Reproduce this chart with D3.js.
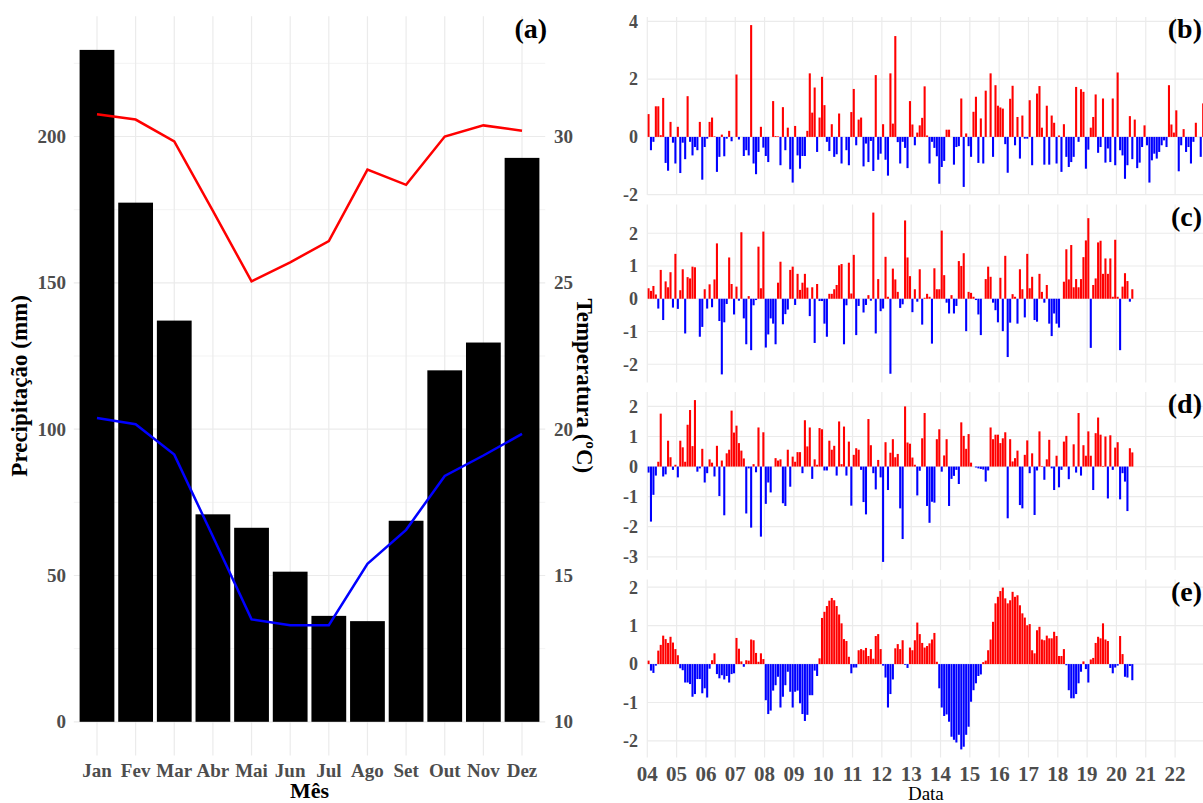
<!DOCTYPE html>
<html>
<head>
<meta charset="utf-8">
<script src="https://cdn.jsdelivr.net/npm/d3@7"></script>
<style>
  body { margin: 0; background: #fff; }
  svg { display: block; }
  text { font-family: "Liberation Serif", "Times New Roman", serif; }
</style>
</head>
<body>
<div id="chart"></div>
<script>
/*************    DADOS   *************/

// (a) normais mensais
var meses = ["Jan", "Fev", "Mar", "Abr", "Mai", "Jun", "Jul", "Ago", "Set", "Out", "Nov", "Dez"];
var precipitacao = [229.6, 177.4, 137.1, 70.9, 66.3, 51.3, 36.2, 34.4, 68.7, 120.1, 129.6, 192.7];
var tempMax = [30.76, 30.58, 29.83, 27.46, 25.05, 25.7, 26.43, 28.87, 28.35, 30.0, 30.38, 30.2];
var tempMin = [20.38, 20.17, 19.13, 16.33, 13.5, 13.3, 13.3, 15.4, 16.56, 18.4, 19.1, 19.84];
var precipTicks = [0, 50, 100, 150, 200];
var tempTicks = [10, 15, 20, 25, 30];

// (b)-(e) anomalias mensais, a partir de jan/2004
var anoInicio = 2004;
var anos = d3.range(2004, 2023);

var anomaliaB = [
  0.79, -0.46, -0.17, 1.06, 1.06, 0.06, 1.35, -0.9, -1.17, 0.52, -0.2, -0.92,
  0.35, -1.25, -0.2, -0.77, 1.41, -0.17, -0.64, -0.35, -0.46, 0.52, -1.48, -0.35,
  -0.06, 0.52, 0.67, 0.02, -1.21, -0.69, 0.08, -0.67, -0.06, 0.21, -0.15, 0,
  2.16, -0.09, 0, -0.66, -0.46, -0.64, 3.87, -0.92, -1.29, -0.52, 0.35, -0.37,
  -0.66, -0.87, 0, 1.24, 0.03, 0.02, -0.98, 1.03, -0.46, 0.32, -1.12, -1.58,
  0.38, -0.64, -1.1, -0.66, -0.66, 0.21, 2.2, 0.84, 1.71, -0.52, 0.67, 2.08,
  1.1, -0.17, -0.49, 0.44, -0.69, -0.6, 0.81, -0.92, 0, -0.46, -0.98, 0.86,
  1.66, -0.29, 0.6, 0.67, -1.02, -0.23, -0.87, -0.14, -1.18, 2.14, -0.79, -0.58,
  0.44, -0.79, -1.34, 2.2, 0.46, 3.49, -0.18, -0.92, -0.17, -0.38, -1.08, 1.24,
  0.43, -0.29, 0.15, 0.4, 0.66, 1.75, 0.05, -0.92, -0.17, -0.38, -0.67, -1.62,
  -1.04, -0.83, 0.25, 0.25, 0, -0.96, -0.35, -0.32, 1.33, -1.73, 0.12, -0.32,
  -0.69, 0.87, 1.39, -0.9, 0.64, -0.92, 1.6, 0, 2.2, -0.69, 1.79, 1.08,
  1.02, 0.98, -0.25, -1.24, 1.32, 1.77, -0.29, 0.69, -0.75, 0.74, -0.06, -0.06,
  1.27, -0.98, 0, 1.5, 1.76, 0.32, -0.96, 1.08, -0.96, 0.74, 0.49, -0.92,
  0.05, -1.21, 0.44, -0.69, -1.04, -0.87, -0.69, 1.73, -0.17, 1.65, 1.56, -1.1,
  -0.44, 0.32, 0.69, 1.47, -0.55, -0.35, 1.33, -0.89, -0.4, -0.87, 1.33, -0.98,
  2.23, -0.46, -0.64, -1.45, -0.98, 0.72, -0.77, 0.6, -1.08, -0.89, -0.35, 0.4,
  -0.29, -1.58, -0.81, -0.58, -0.75, -0.52, -0.29, -0.12, -0.35, 1.79, 0.43, 0.15,
  0.92, -1.19, -0.29, 0.27, -0.52, -0.35, -0.92, -0.17, 0.49, 0, -0.69, 1.16
];

var anomaliaC = [
  0.32, 0.24, 0.39, 0.13, -0.3, 0.88, -0.65, 0.53, 0.35, 0.81, -0.27, 1.37,
  -0.31, 0.26, 0.9, -1.06, 0.66, 0.62, 0.98, 0.96, 0, -1.16, -0.86, 0.29,
  -0.3, 0.44, -0.26, 0.59, 1.69, -0.68, -2.31, -0.72, -0.16, 1.26, 0.45, -0.48,
  0.37, -0.06, 2.03, -0.6, -1.39, 0.08, -1.57, -0.2, -0.04, 1.59, 0.32, 2.05,
  -1.49, -1.09, -0.6, -0.76, -1.39, 0.49, 1.13, -0.78, -0.47, -0.33, 0.88, 0.98,
  -0.19, 0.76, 0.27, 0.49, 0.76, 0.34, -0.53, 0.35, -1.35, 0.45, -0.07, -0.07,
  -0.76, -1.16, 0.15, 0.15, 0.29, 0.42, 1.02, 1.06, -1.39, -0.2, 1.1, 0.16,
  1.34, -1.11, -0.22, 0, -0.42, -0.19, 0.11, -0.06, 2.63, -1.06, 0.6, -0.38,
  -0.3, 1.28, 0.06, -2.29, 0.92, 0.59, 0.21, -0.28, -0.17, 2.39, 1.26, 0.69,
  -0.41, 0.29, -0.09, 0.9, -0.79, 0.03, 0.15, 0.06, -1.37, 0.93, 0.29, 0.29,
  2.08, 0.72, -0.12, -0.45, 0.11, -0.45, -0.22, 1.15, 1.0, 1.39, -0.99, 0.21,
  0.18, 0.06, -0.04, -0.48, -1.11, 0, 0.6, 0.98, 0.67, -0.12, -0.35, -0.72,
  0.64, -0.99, 1.31, -1.78, -0.73, 0.14, 0.06, -0.76, 0.9, 0.29, -0.57, 1.37,
  0.32, 0.67, -0.65, -0.7, 0.76, 0.21, -0.12, 0.42, -0.76, -1.14, -0.45, -0.76,
  -0.88, 0, 0.52, 1.51, 0.59, 1.64, 0.35, 0.6, 0.35, 0.6, 1.27, 1.78,
  2.46, -1.5, 0.42, 0.62, 1.72, 1.77, 0.76, 1.23, 0.76, 1.23, 0.06, 1.8,
  0.06, -1.57, 0.37, 0.78, 0.54, -0.09, 0.29
];

var anomaliaD = [
  -0.2, -1.83, -0.94, -0.3, 0.16, 1.76, -0.33, -0.26, 0.86, 0.31, -0.11, 0.06,
  -0.36, 0.86, 0.64, 0.16, 1.39, 1.88, 0.68, 2.21, -0.17, -0.06, 0.59, -0.53,
  -0.22, 0.24, 0.13, -0.33, 0.69, -0.98, 0.2, -1.62, 0.44, 0.56, 1.86, 1.13,
  1.36, 0.78, 0.53, 0.27, -1.56, -0.06, -2.03, 0.08, -0.19, 1.3, -2.33, 1.14,
  -1.24, -0.53, -0.86, 0, 0.28, 0.2, 0.24, -1.22, -1.31, 0.56, -0.67, 0.33,
  0.16, 0.48, 0.48, -0.22, 1.54, 0.67, 1.3, -0.41, 0.24, 0.06, 1.28, 1.24,
  -0.13, -0.13, 0.86, 0.56, 0.69, -0.3, 1.5, 0.08, 1.33, -0.3, 0.83, -1.3,
  0.39, 0.61, 0.56, -0.11, -1.18, -1.59, 1.58, 0.71, -0.22, -0.76, 0.22, -0.36,
  -3.17, 0.81, -0.78, 0.46, 0.91, 0.31, 0.42, -1.39, -2.41, 2.0, 0.8, 0.76,
  0.3, 0.06, -0.96, -0.14, 0.94, 1.78, -1.31, -1.87, -1.17, -1.2, 0.91, 1.24,
  -0.17, 0.37, 0.91, -1.31, -0.41, -0.31, -0.11, -0.58, 1.47, 1.02, 0.59, 1.08,
  0.13, 0, -0.03, -0.06, -0.08, -0.1, -0.5, -0.13, 1.3, 0.91, 1.06, 1.06,
  0.78, 0.94, 1.14, -1.72, 0.91, 0.17, 0.28, 0.53, -1.28, -1.39, 0.39, 0.87,
  -0.22, 0.44, -1.61, -0.13, 1.17, 0.02, -0.44, 0.24, 0.89, -0.06, -0.78, 0.36,
  -0.69, -0.11, 0.83, 1.02, -0.42, 0, 0.74, -0.2, 1.78, -0.3, 0.71, 0.36,
  1.17, 0.36, -0.78, 1.11, 1.63, 1.06, 0.02, 1.0, -1.06, 1.04, -0.11, 0.63,
  0.81, -1.09, -0.22, -0.5, -1.48, 0.61, 0.47
];

var anomaliaE = [
  0.09, -0.17, -0.23, -0.04, 0.35, 0.5, 0.74, 0.65, 0.55, 0.71, 0.56, 0.39,
  0.23, -0.11, -0.16, -0.48, -0.48, -0.52, -0.85, -0.78, -0.39, -0.39, -0.76, -0.63,
  -0.87, -0.12, 0.1, 0.28, -0.26, -0.37, -0.29, -0.4, -0.31, -0.48, -0.26, -0.24,
  0.68, 0.4, 0.07, -0.07, 0.1, 0.09, 0.64, 0.62, 0.29, 0.06, 0.28, 0.13,
  -0.94, -1.3, -1.21, -0.69, -0.55, -0.33, -1.13, -0.85, -0.55, -0.2, -0.72, -1.13,
  -0.72, -0.69, -1.02, -1.3, -1.48, -1.32, -0.81, -0.81, -0.17, -0.31, 0.15, 1.2,
  1.36, 1.51, 1.65, 1.72, 1.66, 1.51, 1.29, 1.06, 0.65, 0.6, 0.19, -0.24,
  -0.09, -0.09, 0.36, 0.39, 0.36, 0.42, 0.21, 0.39, 0.14, 0.73, 0.78, 0.39,
  -0.04, -0.35, -1.13, -0.78, -0.4, 0.41, 0.52, 0.39, 0.62, -0.02, -0.1, 0.43,
  0.36, 0.62, 1.08, 0.78, 0.55, 0.43, 0.47, 0.54, 0.64, 0.81, 0.06, -0.63,
  -1.13, -1.35, -1.31, -1.5, -1.89, -1.97, -2.04, -1.84, -2.22, -2.15, -1.84, -1.63,
  -0.98, -0.68, -0.5, -0.31, -0.27, 0.05, 0.09, 0.36, 0.64, 1.1, 1.58, 1.75,
  1.9, 1.99, 1.71, 1.58, 1.66, 1.88, 1.75, 1.79, 1.53, 1.32, 1.21, 1.01,
  1.04, 0.36, 0.28, 0.88, 0.97, 0.64, 0.62, 0.74, 0.67, 0.67, 0.84, 0.73,
  0.21, 0.21, 0.39, -0.03, -0.68, -0.89, -0.89, -0.78, -0.5, -0.2, 0.07, -0.13,
  -0.48, 0.12, 0.16, 0.55, 0.71, 0.67, 1.06, 0.64, 0.6, -0.1, -0.24, -0.09,
  -0.04, 0.73, 0.26, -0.33, -0.35, -0.05, -0.42
];

var ticksB = [-2, 0, 2, 4];
var ticksC = [-2, -1, 0, 1, 2];
var ticksD = [-3, -2, -1, 0, 1, 2];
var ticksE = [-2, -1, 0, 1, 2];

/*************    DESENHO   *************/

const width = 1203;
const height = 803;
const corGrade = "#EBEBEB";
const corTick = "#4D4D4D";

const svg = d3
  .select("#chart")
  .append("svg")
  .attr("width", width)
  .attr("height", height);

svg.append("rect").attr("width", width).attr("height", height).attr("fill", "#fff");

createClimograma();
createAnomalia(anomaliaB, ticksB, 17, "(b)", false, "clipB");
createAnomalia(anomaliaC, ticksC, 204.5, "(c)", false, "clipC");
createAnomalia(anomaliaD, ticksD, 392, "(d)", false, "clipD");
createAnomalia(anomaliaE, ticksE, 579.5, "(e)", true, "clipE");

/*************    (a) CLIMOGRAMA   *************/
function createClimograma() {
  const panel = { left: 73.8, right: 545.2, top: 16.3, bottom: 755.4 };

  const x = d3
    .scalePoint()
    .domain(meses)
    .range([panel.left, panel.right])
    .padding(0.6);

  // temperatura vai para a escala da precipitacao: (T - 10) * 10
  const toPrecip = (t) => (t - 10) * 10;
  const maxY = d3.max(precipitacao);
  const y = d3
    .scaleLinear()
    .domain([-0.05 * maxY, maxY * 1.05])
    .range([panel.bottom, panel.top]);

  const g = svg.append("g").attr("class", "climograma");

  // grade menor
  g.append("g")
    .selectAll("line")
    .data([25, 75, 125, 175, 225])
    .join("line")
    .attr("x1", panel.left)
    .attr("x2", panel.right)
    .attr("y1", (d) => y(d))
    .attr("y2", (d) => y(d))
    .attr("stroke", corGrade)
    .attr("stroke-width", 0.6);

  // grade maior
  g.append("g")
    .selectAll("line")
    .data(precipTicks)
    .join("line")
    .attr("x1", panel.left)
    .attr("x2", panel.right)
    .attr("y1", (d) => y(d))
    .attr("y2", (d) => y(d))
    .attr("stroke", corGrade)
    .attr("stroke-width", 1.2);

  g.append("g")
    .selectAll("line")
    .data(meses)
    .join("line")
    .attr("x1", (d) => x(d))
    .attr("x2", (d) => x(d))
    .attr("y1", panel.top)
    .attr("y2", panel.bottom)
    .attr("stroke", corGrade)
    .attr("stroke-width", 1.2);

  // barras
  const bw = x.step() * 0.9;
  g.append("g")
    .attr("class", "bars")
    .selectAll("rect")
    .data(precipitacao)
    .join("rect")
    .attr("x", (d, i) => x(meses[i]) - bw / 2)
    .attr("y", (d) => y(d))
    .attr("width", bw)
    .attr("height", (d) => y(0) - y(d))
    .attr("fill", "black");

  const line = d3
    .line()
    .x((d, i) => x(meses[i]))
    .y((d) => y(toPrecip(d)));

  g.append("path")
    .datum(tempMax)
    .attr("fill", "none")
    .attr("stroke", "#FF0000")
    .attr("stroke-width", 2.5)
    .attr("d", line);

  g.append("path")
    .datum(tempMin)
    .attr("fill", "none")
    .attr("stroke", "#0000FF")
    .attr("stroke-width", 2.5)
    .attr("d", line);

  // eixos
  g.append("g")
    .selectAll("text")
    .data(precipTicks)
    .join("text")
    .attr("x", 66)
    .attr("y", (d) => y(d))
    .attr("dy", "0.35em")
    .attr("text-anchor", "end")
    .attr("fill", corTick)
    .attr("font-weight", "bold")
    .attr("font-size", 19)
    .text((d) => d);

  g.append("g")
    .selectAll("text")
    .data(tempTicks)
    .join("text")
    .attr("x", 554)
    .attr("y", (d) => y(toPrecip(d)))
    .attr("dy", "0.35em")
    .attr("text-anchor", "start")
    .attr("fill", corTick)
    .attr("font-weight", "bold")
    .attr("font-size", 19)
    .text((d) => d);

  g.append("g")
    .selectAll("text")
    .data(meses)
    .join("text")
    .attr("x", (d) => x(d))
    .attr("y", 777)
    .attr("text-anchor", "middle")
    .attr("fill", corTick)
    .attr("font-weight", "bold")
    .attr("font-size", 19)
    .text((d) => d);

  g.append("text")
    .attr("x", (panel.left + panel.right) / 2)
    .attr("y", 798)
    .attr("text-anchor", "middle")
    .attr("font-weight", "bold")
    .attr("font-size", 22)
    .text("Mês");

  g.append("text")
    .attr("transform", `translate(27, ${(panel.top + panel.bottom) / 2}) rotate(-90)`)
    .attr("text-anchor", "middle")
    .attr("font-weight", "bold")
    .attr("font-size", 23)
    .text("Precipitação (mm)");

  g.append("text")
    .attr("transform", `translate(577, ${(panel.top + panel.bottom) / 2}) rotate(90)`)
    .attr("text-anchor", "middle")
    .attr("font-weight", "bold")
    .attr("font-size", 23)
    .text("Temperatura (ºC)");

  g.append("text")
    .attr("x", panel.right + 2)
    .attr("y", 38)
    .attr("text-anchor", "end")
    .attr("font-weight", "bold")
    .attr("font-size", 28)
    .text("(a)");
}

/*************    (b)-(e) ANOMALIAS   *************/
function createAnomalia(data, ticks, top, label, showX, clipId) {
  const panelH = 178;
  const bottom = top + panelH;
  const left = 647.3;
  const right = 1204.4;

  const x = d3.scaleLinear().domain([2004, 2023]).range([left, right]);

  const ext = d3.extent(data);
  const pad = (ext[1] - ext[0]) * 0.05;
  const y = d3
    .scaleLinear()
    .domain([ext[0] - pad, ext[1] + pad])
    .range([bottom, top]);

  const g = svg.append("g").attr("class", "anomalia");

  svg.append("clipPath")
    .attr("id", clipId)
    .append("rect")
    .attr("x", left)
    .attr("y", top)
    .attr("width", right - left)
    .attr("height", panelH);

  g.append("g")
    .selectAll("line")
    .data(ticks)
    .join("line")
    .attr("x1", left)
    .attr("x2", right)
    .attr("y1", (d) => y(d))
    .attr("y2", (d) => y(d))
    .attr("stroke", corGrade)
    .attr("stroke-width", 1.2);

  g.append("g")
    .selectAll("line")
    .data(anos)
    .join("line")
    .attr("x1", (d) => x(d))
    .attr("x2", (d) => x(d))
    .attr("y1", top)
    .attr("y2", bottom)
    .attr("stroke", corGrade)
    .attr("stroke-width", 1.2);

  const bw = (x(2005) - x(2004)) / 12 * 0.85;
  g.append("g")
    .attr("clip-path", `url(#${clipId})`)
    .selectAll("rect")
    .data(data)
    .join("rect")
    .attr("x", (d, i) => x(anoInicio + (i + 0.5) / 12) - bw / 2)
    .attr("y", (d) => y(Math.max(0, d)))
    .attr("width", bw)
    .attr("height", (d) => Math.abs(y(d) - y(0)))
    .attr("fill", (d) => (d >= 0 ? "#FF0000" : "#0000FF"));

  g.append("g")
    .selectAll("text")
    .data(ticks)
    .join("text")
    .attr("x", 638)
    .attr("y", (d) => y(d))
    .attr("dy", "0.35em")
    .attr("text-anchor", "end")
    .attr("fill", corTick)
    .attr("font-weight", "bold")
    .attr("font-size", 18)
    .text((d) => d);

  g.append("text")
    .attr("x", 1202)
    .attr("y", top + 21)
    .attr("text-anchor", "end")
    .attr("font-weight", "bold")
    .attr("font-size", 28)
    .text(label);

  if (showX) {
    g.append("g")
      .selectAll("text")
      .data(anos)
      .join("text")
      .attr("x", (d) => x(d))
      .attr("y", 781)
      .attr("text-anchor", "middle")
      .attr("fill", corTick)
      .attr("font-weight", "bold")
      .attr("font-size", 21)
      .text((d) => String(d).slice(2));

    g.append("text")
      .attr("x", (left + right) / 2)
      .attr("y", 800)
      .attr("text-anchor", "middle")
      .attr("font-size", 19)
      .text("Data");
  }
}
</script>
</body>
</html>
